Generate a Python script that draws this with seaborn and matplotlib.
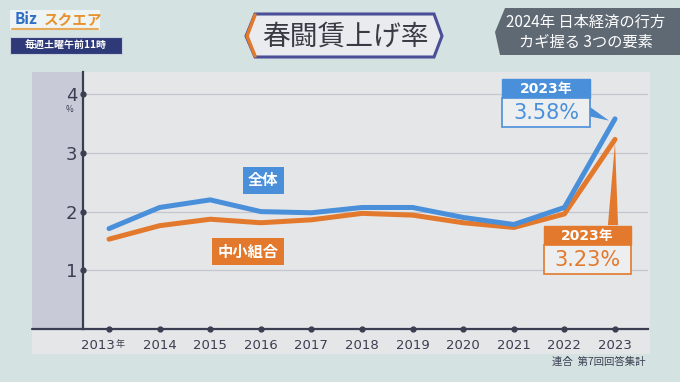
import matplotlib
matplotlib.use("Agg")
import matplotlib.pyplot as plt
import matplotlib.transforms as mtransforms
import seaborn as sns
import pandas as pd
from matplotlib.patches import Rectangle, Polygon

# 連合 春闘 賃上げ率 (%)
years = [2013, 2014, 2015, 2016, 2017, 2018, 2019, 2020, 2021, 2022, 2023]
zentai = [1.71, 2.07, 2.20, 2.00, 1.98, 2.07, 2.07, 1.90, 1.78, 2.07, 3.58]
chusho = [1.53, 1.76, 1.87, 1.81, 1.86, 1.97, 1.94, 1.81, 1.73, 1.96, 3.23]
series_names = ["全体", "中小組合"]
y_ticks = [1, 2, 3, 4]

BLUE = "#4a8fda"
ORANGE = "#e2792c"
DARK = "#3b3e52"
W, H = 680, 382
NUM_FONT = ["DejaVu Sans", "Noto Sans CJK JP"]

sns.set_theme(style="white")
plt.rcParams["font.family"] = ["Noto Sans CJK JP", "DejaVu Sans"]


def px(x, y):
    return x / W, 1 - y / H


df = pd.DataFrame({"year": years * 2,
                   "rate": zentai + chusho,
                   "group": [series_names[0]] * len(years) + [series_names[1]] * len(years)})

fig = plt.figure(figsize=(6.8, 3.82), dpi=100)
fig.patch.set_facecolor("#d5e2e2")

# chart panel and left strip (drawn beneath the axes)
x0, y0 = px(32, 354)
fig.patches.append(Rectangle((x0, y0), 618 / W, 282 / H, transform=fig.transFigure,
                             facecolor="#e5e6e8", edgecolor="none", zorder=-2))
sx, sy = px(32, 329)
fig.patches.append(Rectangle((sx, sy), 51 / W, 257 / H, transform=fig.transFigure,
                             facecolor="#c9cad7", edgecolor="none", zorder=-1))
fig.lines.append(plt.Line2D([32 / W, 84 / W], [1 - 329 / H] * 2, transform=fig.transFigure,
                            color=DARK, lw=1.6))

l, b = px(83, 329)
ax = fig.add_axes([l, b, 565 / W, 257 / H])
ax.set_facecolor("none")

sns.lineplot(data=df, x="year", y="rate", hue="group", hue_order=series_names[::-1],
             palette={series_names[0]: BLUE, series_names[1]: ORANGE},
             lw=3.6, ax=ax, legend=False)

ax.set_xlim(2012.486, 2023.652)
ax.set_ylim(0, 4.378)
ax.set_xlabel("")
ax.set_ylabel("")
for s in ["top", "right"]:
    ax.spines[s].set_visible(False)
for s in ["left", "bottom"]:
    ax.spines[s].set_color(DARK)
    ax.spines[s].set_linewidth(1.6)

ax.set_yticks(y_ticks)
ax.set_yticklabels([str(v) for v in y_ticks], fontsize=13, color=DARK, family=NUM_FONT)
ax.set_xticks(years)
ax.set_xticklabels([str(y) for y in years], fontsize=9.5, color=DARK, family=NUM_FONT)
ax.tick_params(axis="y", length=0, pad=4)
ax.tick_params(axis="x", length=0, pad=7)
for v in y_ticks:
    ax.axhline(v, color="#c4c6cc", lw=0.9, zorder=0)

# first year label carries a small 年 after it
first = ax.get_xticklabels()[0]
first.set_horizontalalignment("right")
first.set_transform(first.get_transform() +
                    mtransforms.ScaledTranslation(6 / 100, 0, fig.dpi_scale_trans))
fig.text(*px(120, 344), "年", fontsize=6.5, color=DARK, ha="center", va="center")

# tick dots
ax.plot(years, [0] * len(years), "o", ms=3.5, color=DARK, clip_on=False, zorder=5)
ax.plot([ax.get_xlim()[0]] * len(y_ticks), y_ticks, "o", ms=3.5, color=DARK,
        clip_on=False, zorder=5)

fig.text(*px(70, 110), "%", fontsize=6, color=DARK, ha="center", va="center")

# series labels
ax.text(2016.05, 2.53, series_names[0], fontsize=11, fontweight="bold", color="white",
        ha="center", va="center",
        bbox=dict(boxstyle="square,pad=0.35", fc=BLUE, ec="none"))
ax.text(2015.75, 1.32, series_names[1], fontsize=11, fontweight="bold", color="white",
        ha="center", va="center",
        bbox=dict(boxstyle="square,pad=0.35", fc=ORANGE, ec="none"))


def callout(left, top, width, color, year, value, face):
    bx, by = px(left, top + 19)
    fig.patches.append(Rectangle((bx, by), width / W, 19 / H, transform=fig.transFigure,
                                 facecolor=color, edgecolor=color, zorder=6))
    cx, cy = px(left, top + 48)
    fig.patches.append(Rectangle((cx, cy), width / W, 29 / H, transform=fig.transFigure,
                                 facecolor=face, edgecolor=color, lw=1.2, zorder=6))
    fig.text(*px(left + width / 2, top + 9.5), f"{year}年", fontsize=10, fontweight="bold",
             color="white", ha="center", va="center", zorder=7, family=NUM_FONT)
    fig.text(*px(left + width / 2, top + 34), f"{value:.2f}%", fontsize=15,
             color=color, ha="center", va="center", zorder=7, family=NUM_FONT)


callout(502, 79, 88, BLUE, years[-1], zentai[-1], "#eceef0")
callout(544, 226, 87, ORANGE, years[-1], chusho[-1], "#eceef0")

# pointers
ax.add_patch(Polygon([(2022.51, 3.78), (2022.51, 3.62), (2022.88, 3.55)], closed=True,
                     fc=BLUE, ec="none", zorder=4))
ax.add_patch(Polygon([(2022.86, 1.77), (2023.06, 1.77), (2023.0, chusho[-1] - 0.06)],
                     closed=True, fc=ORANGE, ec="none", zorder=4))

fig.text(*px(645, 362), "連合  第7回回答集計", fontsize=7.5, color=DARK,
         ha="right", va="center")

# header: programme logo
fig.patches.append(Rectangle(px(10, 30), 90 / W, 20 / H, transform=fig.transFigure,
                             facecolor="#eef3f3", edgecolor="none"))
fig.lines.append(plt.Line2D([12 / W, 98 / W], [1 - 29 / H] * 2, transform=fig.transFigure,
                            color="#e7a95a", lw=1.5))
fig.text(*px(15, 19.5), "Biz", fontsize=11, fontweight="bold", color="#2f6fc6",
         ha="left", va="center")
fig.text(*px(44, 19.5), "スクエア", fontsize=10.5, fontweight="bold", color="#e8922e",
         ha="left", va="center")
fig.patches.append(Rectangle(px(10, 54), 112 / W, 17 / H, transform=fig.transFigure,
                             facecolor="#2e3a78", edgecolor="#c8d0e0", lw=0.8))
fig.text(*px(66, 45.5), "毎週土曜午前11時", fontsize=7.2, fontweight="bold", color="white",
         ha="center", va="center")

# header: title plate
title_pts = [px(246, 36), px(255, 14), px(434, 14), px(442, 36), px(434, 57), px(255, 57)]
fig.patches.append(Polygon(title_pts, closed=True, transform=fig.transFigure,
                           facecolor="#e9ebef", edgecolor="#4b4f98", lw=2.2))
fig.lines.append(plt.Line2D([255 / W, 247 / W, 255 / W], [1 - 15 / H, 1 - 36 / H, 1 - 56 / H],
                            transform=fig.transFigure, color="#e2792c", lw=2.5))
fig.text(*px(345, 36.5), "春闘賃上げ率", fontsize=20, color="#3a3a45",
         ha="center", va="center")

# header: topic plate
topic_pts = [px(495, 32), px(505, 8), px(680, 8), px(680, 55), px(500, 55)]
fig.patches.append(Polygon(topic_pts, closed=True, transform=fig.transFigure,
                           facecolor="#5f6973", edgecolor="none"))
fig.text(*px(586, 22), "2024年 日本経済の行方", fontsize=11, color="white",
         ha="center", va="center")
fig.text(*px(586, 42), "カギ握る 3つの要素", fontsize=11, color="white",
         ha="center", va="center")

fig.savefig("out.png", dpi=100, facecolor=fig.get_facecolor())
